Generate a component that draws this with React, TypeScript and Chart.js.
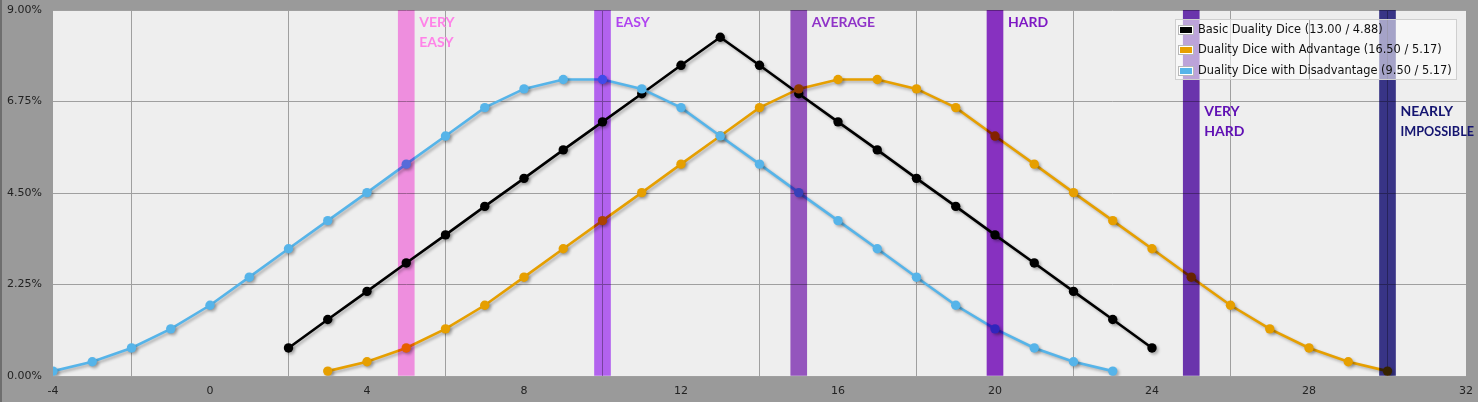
import { useEffect, useRef } from 'react';
import { Chart, registerables } from 'chart.js';

Chart.register(...registerables);

// ---- data ----
const basicX = [2, 3, 4, 5, 6, 7, 8, 9, 10, 11, 12, 13, 14, 15, 16, 17, 18, 19, 20, 21, 22, 23, 24];
const basicPct = [0.69, 1.39, 2.08, 2.78, 3.47, 4.17, 4.86, 5.56, 6.25, 6.94, 7.64, 8.33, 7.64, 6.94, 6.25, 5.56, 4.86, 4.17, 3.47, 2.78, 2.08, 1.39, 0.69];

const advX = [3, 4, 5, 6, 7, 8, 9, 10, 11, 12, 13, 14, 15, 16, 17, 18, 19, 20, 21, 22, 23, 24, 25, 26, 27, 28, 29, 30];
const advPct = [0.12, 0.35, 0.69, 1.16, 1.74, 2.43, 3.13, 3.82, 4.51, 5.21, 5.90, 6.60, 7.06, 7.29, 7.29, 7.06, 6.60, 5.90, 5.21, 4.51, 3.82, 3.13, 2.43, 1.74, 1.16, 0.69, 0.35, 0.12];

const disX = [-4, -3, -2, -1, 0, 1, 2, 3, 4, 5, 6, 7, 8, 9, 10, 11, 12, 13, 14, 15, 16, 17, 18, 19, 20, 21, 22, 23];
const disPct = [0.12, 0.35, 0.69, 1.16, 1.74, 2.43, 3.13, 3.82, 4.51, 5.21, 5.90, 6.60, 7.06, 7.29, 7.29, 7.06, 6.60, 5.90, 5.21, 4.51, 3.82, 3.13, 2.43, 1.74, 1.16, 0.69, 0.35, 0.12];

const seriesLabels = [
  'Basic Duality Dice (13.00 / 4.88)',
  'Duality Dice with Advantage (16.50 / 5.17)',
  'Duality Dice with Disadvantage (9.50 / 5.17)',
];

const bandX = [5, 10, 15, 20, 25, 30];
const bandTop = [9, 9, 9, 9, 9, 9];
const bandLabels = [['VERY', 'EASY'], ['EASY'], ['AVERAGE'], ['HARD'], ['VERY', 'HARD'], ['NEARLY', 'IMPOSSIBLE']];

const xMin = -4, xMax = 32, xStep = 4;
const yMin = 0, yMax = 9, yStep = 2.25;

// ---- styles ----
const seriesColors = ['#000000', '#e69f00', '#56b4e9'];
const bandColors = ['#ff98ee', '#bf69ff', '#9f5bcb', '#9134ce', '#7237b9', '#3c3790'];
const labelColors = ['#ff82e8', '#b044f0', '#9034c8', '#7e18c4', '#6010b4', '#141470'];
const gridColor = '#9f9f9f';

const toPts = (xs: number[], ys: number[]) => xs.map((x, i) => ({ x, y: ys[i] }));

export default function App() {
  const ref = useRef<HTMLCanvasElement | null>(null);

  useEffect(() => {
    document.body.style.margin = '0';
    const canvas = ref.current!;

    const bgPlugin = {
      id: 'bgPlugin',
      beforeDraw(chart: any) {
        const { ctx, chartArea: a, width, height } = chart;
        ctx.save();
        ctx.fillStyle = '#9a9a9a';
        ctx.fillRect(0, 0, width, height);
        ctx.fillStyle = '#6e6e6e';
        ctx.fillRect(0, 0, 2, height);
        ctx.fillStyle = '#eeeeee';
        ctx.fillRect(a.left, a.top, a.right - a.left, a.bottom - a.top);
        ctx.restore();
      },
      beforeDatasetDraw(chart: any, args: any) {
        const ctx = chart.ctx;
        ctx.save();
        if (args.meta.type === 'bar') {
          ctx.globalCompositeOperation = 'multiply';
        } else {
          ctx.shadowColor = 'rgba(0,0,0,0.28)';
          ctx.shadowBlur = 3;
          ctx.shadowOffsetX = 2;
          ctx.shadowOffsetY = 2;
        }
      },
      afterDatasetDraw(chart: any) {
        chart.ctx.restore();
      },
      afterDatasetsDraw(chart: any) {
        const { ctx, chartArea: a } = chart;
        const xs = chart.scales.x;
        ctx.save();
        // legend
        ctx.font = '11.4px "DejaVu Sans"';
        let maxW = 0;
        seriesLabels.forEach((l) => { maxW = Math.max(maxW, ctx.measureText(l).width); });
        const boxW = Math.round(23 + maxW + 4);
        const boxR = a.right - 10;
        const boxL = boxR - boxW;
        const boxT = a.top + 9;
        const rowH = 20.5;
        const boxH = Math.round(rowH * 3 - 2);
        ctx.fillStyle = 'rgba(255,255,255,0.55)';
        ctx.fillRect(boxL, boxT, boxW, boxH);
        // grid lines showing through the legend
        ctx.save();
        ctx.beginPath();
        ctx.rect(boxL, boxT, boxW, boxH);
        ctx.clip();
        ctx.strokeStyle = '#a8a8a8';
        ctx.lineWidth = 1;
        for (let v = xMin; v <= xMax; v += xStep) {
          const px = Math.round(xs.getPixelForValue(v)) + 0.5;
          if (px > boxL && px < boxL + boxW) {
            ctx.beginPath();
            ctx.moveTo(px, boxT);
            ctx.lineTo(px, boxT + boxH);
            ctx.stroke();
          }
        }
        ctx.restore();
        ctx.strokeStyle = '#cfcfcf';
        ctx.lineWidth = 1;
        ctx.strokeRect(boxL + 0.5, boxT + 0.5, boxW, boxH);
        ctx.textBaseline = 'middle';
        ctx.textAlign = 'left';
        seriesLabels.forEach((l, i) => {
          const cy = boxT + 10.5 + i * rowH;
          const sx = boxL + 3;
          const sy = Math.round(cy - 5);
          ctx.strokeStyle = '#b8b8b8';
          ctx.strokeRect(sx + 0.5, sy + 0.5, 15, 9);
          ctx.fillStyle = '#ffffff';
          ctx.fillRect(sx + 1, sy + 1, 14, 8);
          ctx.fillStyle = seriesColors[i];
          ctx.fillRect(sx + 2, sy + 2, 12, 6);
          ctx.fillStyle = '#111111';
          ctx.fillText(l, sx + 20, cy + 0.5);
        });
        ctx.restore();
      },
      afterDraw(chart: any) {
        const { ctx, chartArea: a, width } = chart;
        const xs = chart.scales.x;
        ctx.save();
        ctx.font = 'bold 14px Lato';
        ctx.textBaseline = 'middle';
        ctx.textAlign = 'left';
        bandLabels.forEach((lines, i) => {
          const px = xs.getPixelForValue(bandX[i]) + 13;
          const lowered = px > a.right - 300;
          const y0 = a.top + (lowered ? 101 : 12);
          ctx.fillStyle = labelColors[i];
          lines.forEach((t, j) => ctx.fillText(t, px, y0 + j * 20, width - px - 4));
        });
        ctx.restore();
      },
    };

    const lineDs = (i: number, xs: number[], ys: number[]) => ({
      type: 'line' as const,
      label: seriesLabels[i],
      data: toPts(xs, ys),
      borderColor: seriesColors[i],
      backgroundColor: seriesColors[i],
      pointBackgroundColor: seriesColors[i],
      pointBorderColor: seriesColors[i],
      pointBorderWidth: 0,
      pointRadius: 4.7,
      borderWidth: 2.6,
      tension: 0,
      fill: false,
      order: 2,
    });

    const chart = new Chart(canvas, {
      type: 'line',
      data: {
        datasets: [
          lineDs(2, disX, disPct),
          lineDs(1, advX, advPct),
          lineDs(0, basicX, basicPct),
          {
            type: 'bar' as const,
            label: 'bands',
            data: bandX.map((x, i) => ({ x, y: bandTop[i] })),
            backgroundColor: bandColors,
            borderWidth: 0,
            barThickness: 16,
            order: 1,
          } as any,
        ],
      },
      options: {
        responsive: false,
        animation: false,
        events: [],
        layout: { autoPadding: false, padding: { top: 10, right: 12, left: 0, bottom: 0 } },
        plugins: { legend: { display: false }, tooltip: { enabled: false } },
        scales: {
          x: {
            type: 'linear',
            min: xMin,
            max: xMax,
            offset: false,
            afterFit: (s: any) => { s.height = 26; s.paddingLeft = 0; s.paddingRight = 0; },
            ticks: {
              stepSize: xStep,
              autoSkip: false,
              maxRotation: 0,
              padding: 9,
              color: '#222222',
              font: { family: '"DejaVu Sans"', size: 11 },
            },
            grid: { color: gridColor, lineWidth: 1, drawTicks: false },
            border: { display: false },
          },
          y: {
            type: 'linear',
            min: yMin,
            max: yMax,
            afterFit: (s: any) => { s.width = 53; s.paddingTop = 0; s.paddingBottom = 0; },
            ticks: {
              stepSize: yStep,
              padding: 11,
              color: '#222222',
              font: { family: '"DejaVu Sans"', size: 11 },
              callback: (v: any) => Number(v).toFixed(2) + '%',
            },
            grid: { color: gridColor, lineWidth: 1, drawTicks: false },
            border: { display: false },
          },
        },
      } as any,
      plugins: [bgPlugin],
    });

    return () => chart.destroy();
  }, []);

  return (
    <div style={{ position: 'absolute', left: 0, top: 0, width: 1478, height: 402 }}>
      <canvas ref={ref} width={1478} height={402} style={{ display: 'block' }} />
    </div>
  );
}
